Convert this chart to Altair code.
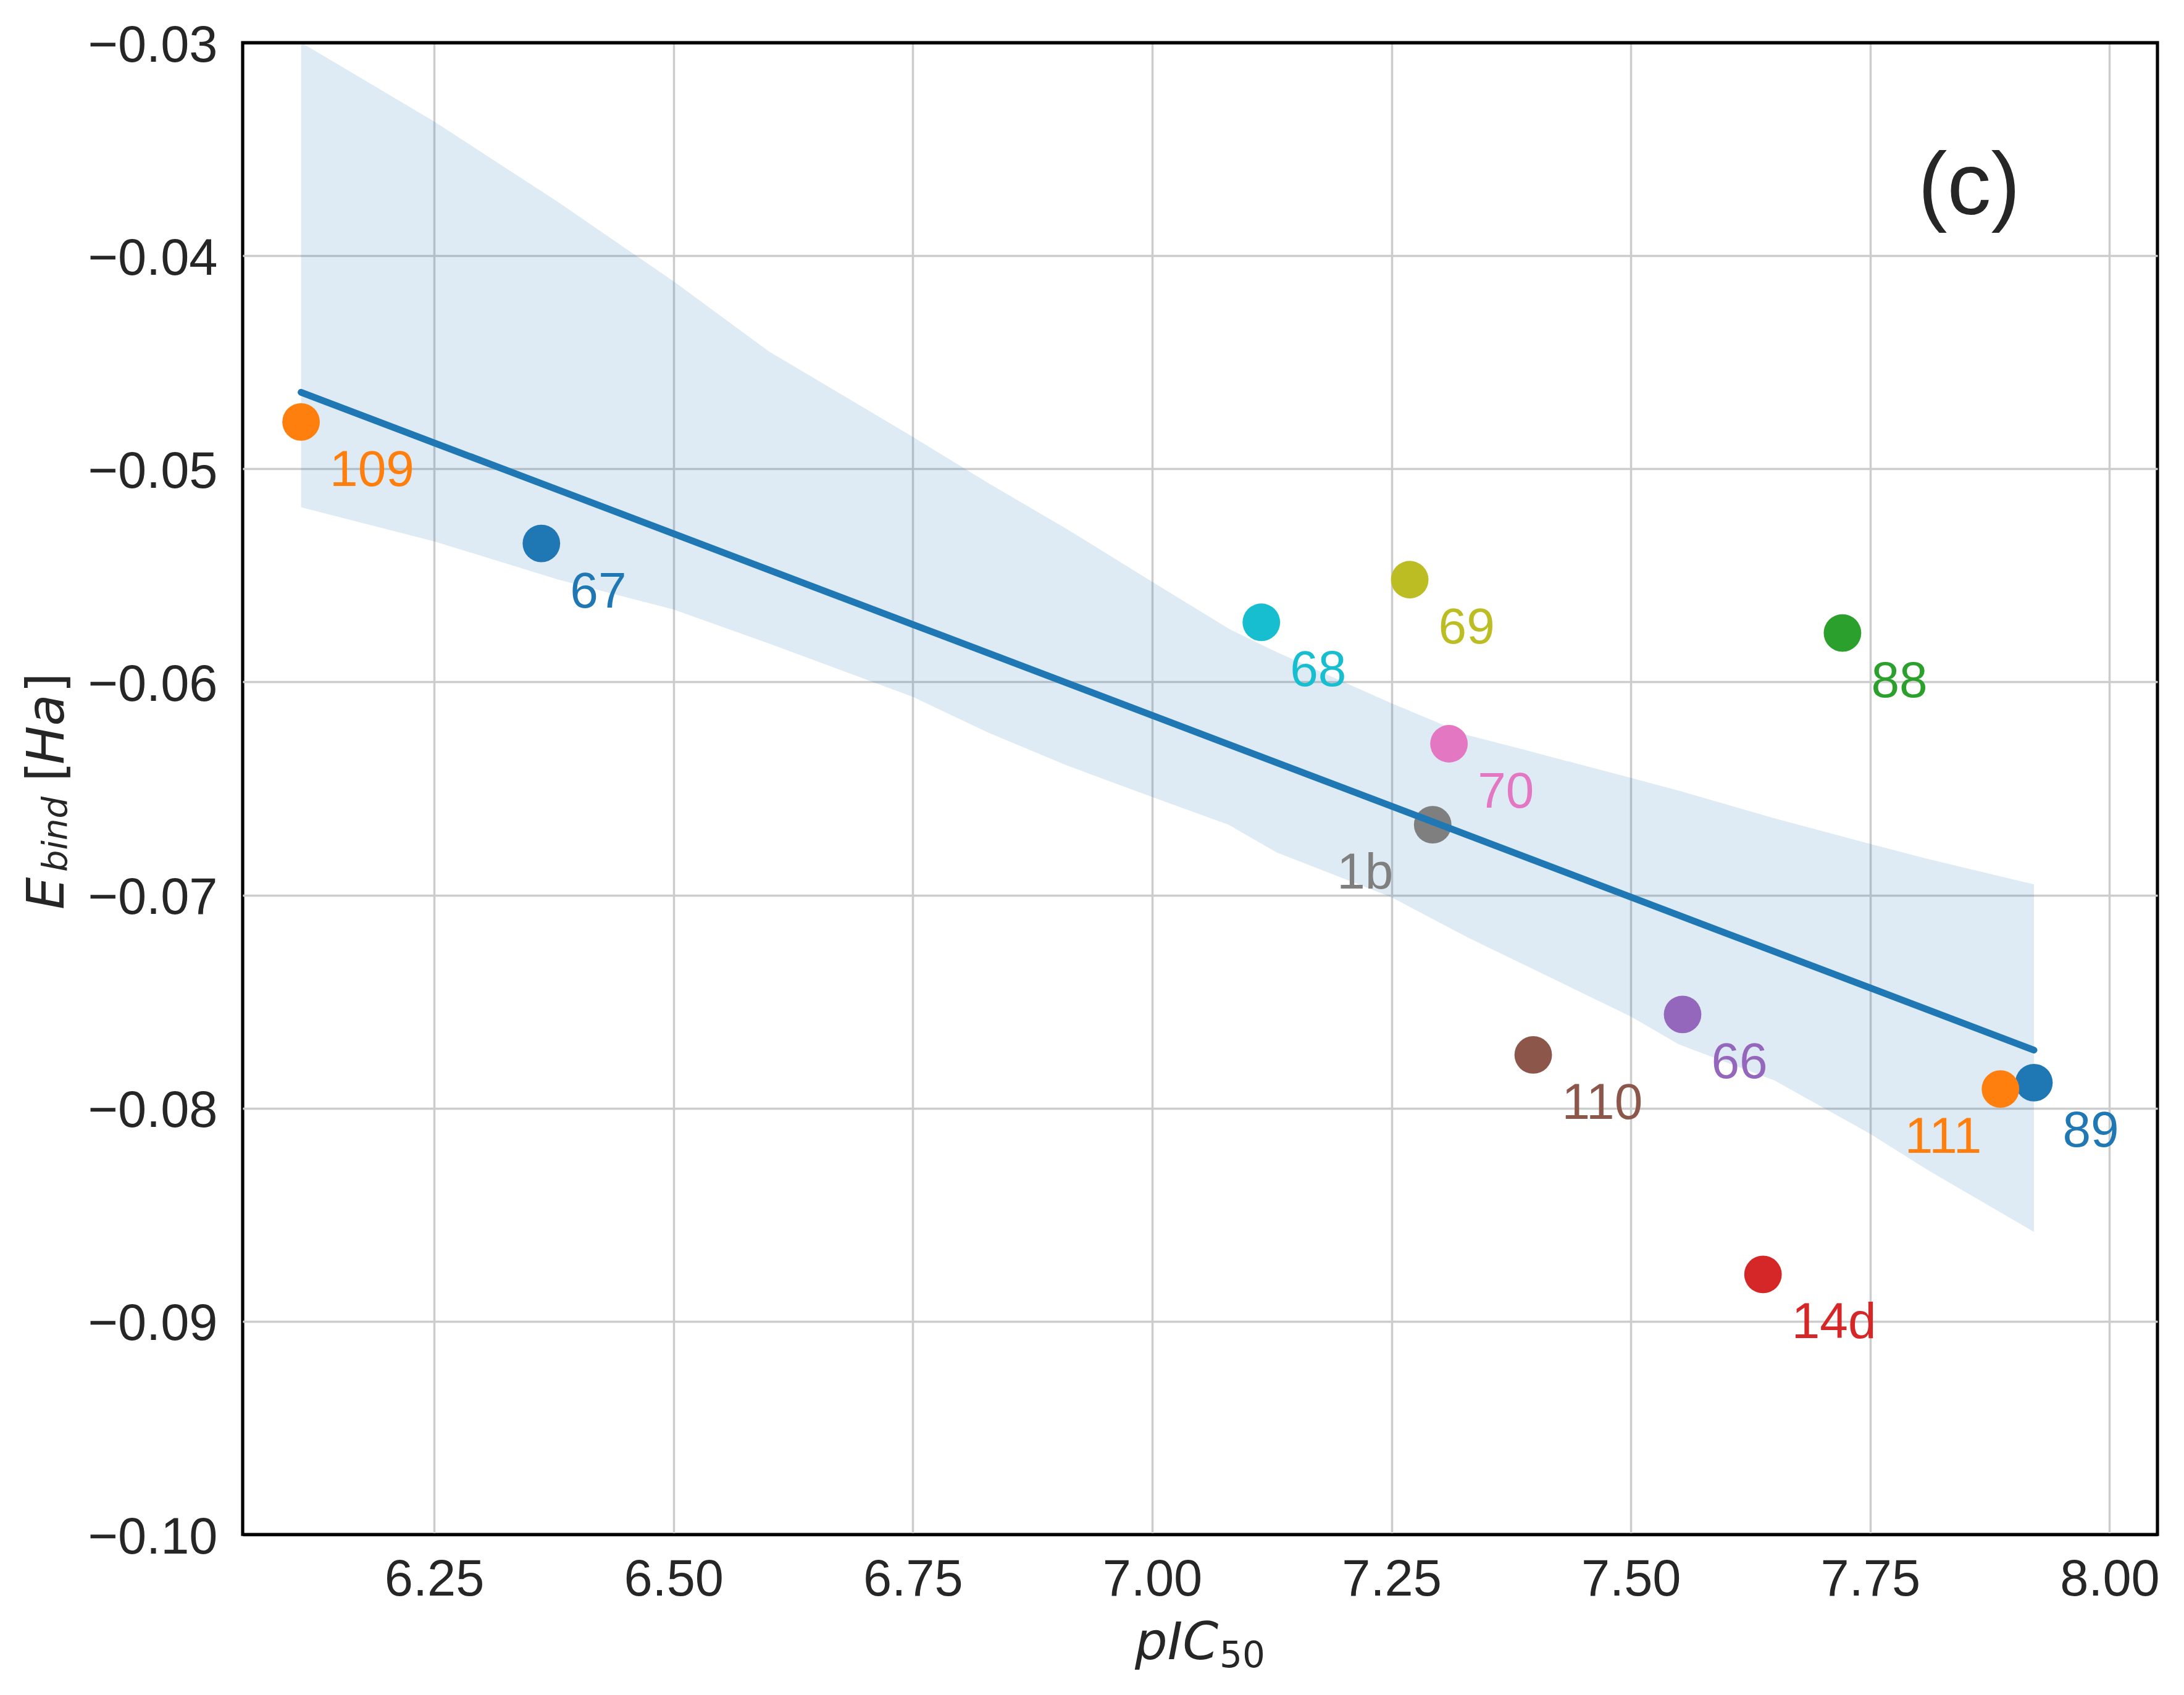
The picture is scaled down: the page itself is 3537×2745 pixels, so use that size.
import altair as alt
import pandas as pd

# ---- data ----
NAMES = ["67", "109", "88", "14d", "66", "110", "70", "1b", "69", "68", "89", "111"]
PIC50 = [6.362, 6.111, 7.721, 7.638, 7.554, 7.398, 7.310, 7.293, 7.269, 7.114, 7.921, 7.886]
EBIND = [-0.0535, -0.0478, -0.0577, -0.0878, -0.0756, -0.0775, -0.0629, -0.0667,
         -0.0552, -0.0572, -0.0788, -0.0791]
COLORS = ["#1f77b4", "#ff7f0e", "#2ca02c", "#d62728", "#9467bd", "#8c564b",
          "#e377c2", "#7f7f7f", "#bcbd22", "#17becf", "#1f77b4", "#ff7f0e"]
LEFT_LABELS = ["1b", "111"]

# confidence band of the regression
BAND_X = [6.111, 6.25, 6.38, 6.50, 6.60, 6.75, 6.83, 6.91, 7.00, 7.08, 7.13,
          7.25, 7.33, 7.39, 7.50, 7.55, 7.65, 7.75, 7.81, 7.921]
BAND_UPPER = [-0.0300, -0.0337, -0.0375, -0.0412, -0.0445, -0.0485, -0.0507,
              -0.0528, -0.0553, -0.0575, -0.0586, -0.0610, -0.0625, -0.0632,
              -0.0645, -0.0651, -0.0664, -0.0676, -0.0683, -0.0695]
BAND_LOWER = [-0.0518, -0.0534, -0.0552, -0.0566, -0.0582, -0.0607, -0.0624,
              -0.0639, -0.0654, -0.0667, -0.0680, -0.0701, -0.0720, -0.0733,
              -0.0757, -0.0770, -0.0787, -0.0812, -0.0829, -0.0858]

X_TICKS = [6.25, 6.50, 6.75, 7.00, 7.25, 7.50, 7.75, 8.00]
Y_TICKS = [-0.10, -0.09, -0.08, -0.07, -0.06, -0.05, -0.04, -0.03]
X_DOMAIN = [6.05, 8.05]
Y_DOMAIN = [-0.10, -0.03]

PANEL = "(c)"

# ---- chart ----
W, H = 3101, 2416
TXT = "#262626"
FRAME_W = 5.2

pts = pd.DataFrame({"name": NAMES, "pIC50": PIC50, "Ebind": EBIND})
band = pd.DataFrame({"x": BAND_X, "lo": BAND_LOWER, "hi": BAND_UPPER})

xs = alt.Scale(domain=X_DOMAIN, nice=False, zero=False)
ys = alt.Scale(domain=Y_DOMAIN, nice=False, zero=False)

edge_test = (f"abs(datum.value - ({Y_DOMAIN[0]})) < 1e-9 || "
             f"abs(datum.value - ({Y_DOMAIN[1]})) < 1e-9")
xaxis = alt.Axis(values=X_TICKS, format=".2f", title=None, labelPadding=32)
yaxis = alt.Axis(
    values=Y_TICKS, format=".2f", title=None, labelPadding=41, labelOffset=5,
    gridColor={"condition": {"test": edge_test, "value": "black"}, "value": "#cccccc"},
    gridWidth={"condition": {"test": edge_test, "value": FRAME_W}, "value": 3.5},
)
color = alt.Color("name:N", scale=alt.Scale(domain=NAMES, range=COLORS), legend=None)

band_layer = alt.Chart(band).mark_area(color="#1f77b4", opacity=0.15, clip=True).encode(
    x=alt.X("x:Q", scale=xs, axis=xaxis),
    y=alt.Y("lo:Q", scale=ys, axis=yaxis),
    y2="hi:Q",
)

points = alt.Chart(pts).mark_circle(size=3700, opacity=1).encode(
    x=alt.X("pIC50:Q", scale=xs),
    y=alt.Y("Ebind:Q", scale=ys),
    color=color,
    order=alt.Order("idx:Q"),
).transform_window(idx="row_number()")

line = alt.Chart(pts).transform_regression("pIC50", "Ebind").mark_line(
    color="#1f77b4", strokeWidth=11, strokeCap="round"
).encode(
    x=alt.X("pIC50:Q", scale=xs),
    y=alt.Y("Ebind:Q", scale=ys),
)

left_list = "[" + ",".join("'" + n + "'" for n in LEFT_LABELS) + "]"
labels = alt.Chart(pts).transform_calculate(
    lx=f"indexof({left_list}, datum.name) >= 0 ? datum.pIC50 - 0.1 : datum.pIC50 + 0.03",
    ly="datum.Ebind - 0.003",
).mark_text(
    font="Liberation Sans", fontSize=82, align="left", baseline="alphabetic"
).encode(
    x=alt.X("lx:Q", scale=xs),
    y=alt.Y("ly:Q", scale=ys),
    text="name:N",
    color=color,
)


def txt(s, x, y, size=83, style="normal", font="DejaVu Sans", angle=0, align="left"):
    kw = dict(text=s, font=font, fontSize=size, fontStyle=style, color=TXT,
              align=align, baseline="alphabetic")
    if angle:
        kw["angle"] = angle
    return alt.Chart(alt.Data(values=[{"a": 1}])).mark_text(**kw).encode(
        x=alt.value(x), y=alt.value(y)
    )


panel = txt(PANEL, 2796, 278, size=142, font="Liberation Sans", align="center")

# x title: pIC_50
xt1 = txt("pIC", 1445, 2618, size=83, style="italic")
xt2 = txt("50", 1582, 2631, size=58)
# y title: E_bind [Ha] (rotated)
yt1 = txt("E", -290, 1404, size=83, style="italic", angle=270)
yt2 = txt("bind", -285, 1343, size=56, style="italic", angle=270)
yt3 = txt("[", -290, 1197, size=83, angle=270)
yt4 = txt("Ha", -290, 1169, size=83, style="italic", angle=270)
yt5 = txt("]", -290, 1053, size=83, angle=270)

chart = alt.layer(
    band_layer, points, line, labels, panel, xt1, xt2, yt1, yt2, yt3, yt4, yt5
).properties(
    width=W, height=H,
    autosize=alt.AutoSizeParams(type="none"),
    padding={"left": 385, "top": 61, "right": 25, "bottom": 235},
    background="white",
).configure_view(
    stroke="black", strokeWidth=FRAME_W
).configure_axis(
    labelFont="Liberation Sans", labelFontSize=83, labelColor=TXT, labelLimit=1000,
    grid=True, gridColor="#cccccc", gridWidth=3.5,
    domain=False, ticks=False, tickSize=0,
)

chart.save("out.html", embed_options={"renderer": "svg", "actions": False})
